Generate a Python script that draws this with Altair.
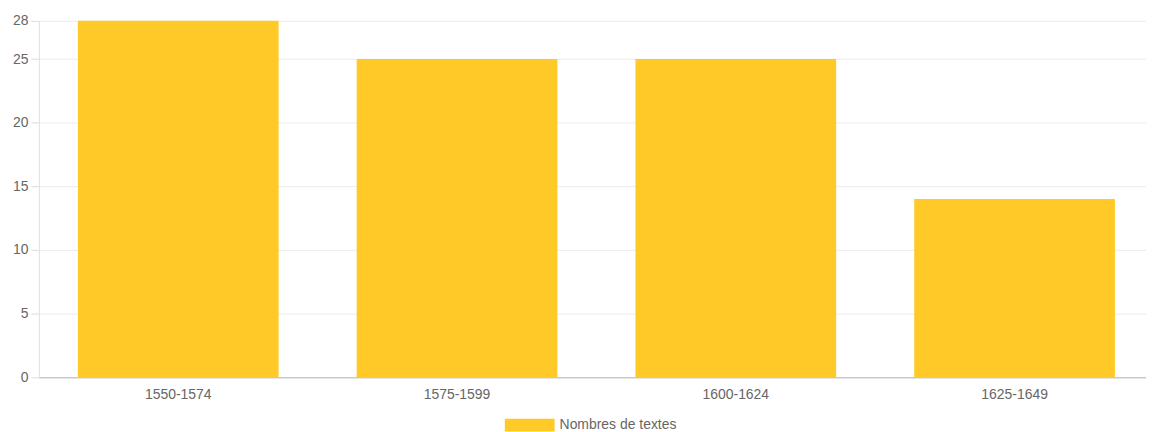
import altair as alt
import pandas as pd

periods = ["1550-1574", "1575-1599", "1600-1624", "1625-1649"]
counts = [28, 25, 25, 14]
series_name = "Nombres de textes"
y_ticks = [0, 5, 10, 15, 20, 25, 28]

df = pd.DataFrame({"period": periods, "count": counts, "series": [series_name] * len(periods)})

FONT = "Liberation Sans"

chart = alt.Chart(df).mark_bar(color="#FFCA28").encode(
    x=alt.X("period:N", sort=periods, title=None,
            scale=alt.Scale(range=[0, 1120], paddingInner=0.28, paddingOuter=0.14),
            axis=alt.Axis(labelAngle=0, ticks=False, grid=False, domainColor="#b5b5b5",
                          labelColor="#666666", labelFontSize=14, labelFont=FONT,
                          labelPadding=10)),
    y=alt.Y("count:Q", title=None,
            scale=alt.Scale(domain=[0, 28], nice=False),
            axis=alt.Axis(values=y_ticks, grid=True, gridColor="#ebebeb", tickColor="#dcdcdc",
                          tickSize=8, domainColor="#e0e0e0", labelColor="#666666",
                          labelFontSize=14, labelFont=FONT, labelPadding=3)),
    color=alt.Color("series:N", scale=alt.Scale(range=["#FFCA28"]),
                    legend=alt.Legend(title=None, orient="none", legendX=468, legendY=381,
                                      padding=0, symbolType="M-1,-0.26H1V0.26H-1Z",
                                      symbolSize=2500, symbolStrokeWidth=0, symbolOpacity=1,
                                      labelColor="#666666", labelFontSize=14, labelFont=FONT,
                                      labelOffset=5)),
).properties(
    width=1112, height=358,
    autosize=alt.AutoSizeParams(type="none"),
    padding={"left": 31, "top": 12, "right": 0, "bottom": 54},
).configure_view(stroke=None)

chart.save("out.html", embed_options={"renderer": "svg", "actions": False})
